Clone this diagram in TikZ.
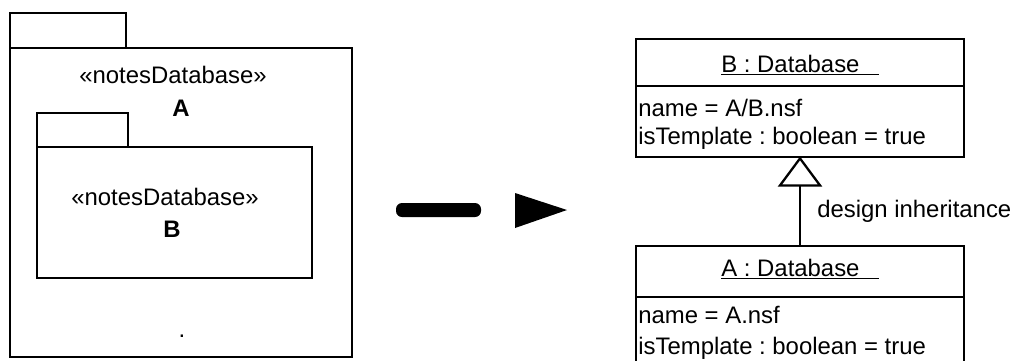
\documentclass[tikz,border=0pt]{standalone}
\usepackage{fontspec}
\setmainfont{Liberation Sans}
\usepackage{tikz}
\tikzset{>=stealth}
\tikzset{
  uml/.style={line width=1.6pt},
  lbl/.style={inner sep=0pt, font=\fontsize{13.6pt}{16pt}\selectfont\frenchspacing},
  gentip/.style={line width=1.3pt, line join=miter, fill=white}
}

\begin{document}
\begin{tikzpicture}[x=0.02cm, y=-0.02cm]
    \useasboundingbox (0,0) rectangle (1014,360);
    % package A with package B inside
    \draw[uml] (10,48) rectangle (126,13);
    \draw[uml] (10,48) rectangle (352,357);
    \node[lbl, anchor=base] (stA) at (173,83) {«notesDatabase»};
    \node[lbl, anchor=base] (nmA) at (181,116) {\textbf{A}};
    \draw[uml] (37,147) rectangle (128,113);
    \draw[uml] (37,147) rectangle (312,278);
    \node[lbl, anchor=base] (stB) at (165,205) {«notesDatabase»};
    \node[lbl, anchor=base] (nmB) at (172,237) {\textbf{B}};
    \node[lbl, anchor=base] (dot) at (182,337) {.};
    % becomes
    \fill[rounded corners=0.12cm] (396,203) rectangle (481,217);
    \fill (515,193) -- (567,210) -- (515,228) -- cycle;
    % object B
    \node[uml, draw, minimum width=6.56cm, minimum height=2.36cm, inner sep=0pt] (Bobj) at (800,98) {};
    \draw[uml] (636,86) -- (964,86);
    \node[lbl, anchor=base] (Btitle) at (800,72) {\underline{B : Database\hspace{0.8em}}};
    \node[lbl, anchor=base west] (Bname) at (638,116) {name = A/B.nsf};
    \node[lbl, anchor=base west] (Btpl) at (638,144) {isTemplate : boolean = true};
    % object A, runs off the bottom
    \node[uml, draw, minimum width=6.56cm, minimum height=3.48cm, inner sep=0pt] (Aobj) at (800,333) {};
    \draw[uml] (636,297) -- (964,297);
    \node[lbl, anchor=base] (Atitle) at (800,276) {\underline{A : Database\hspace{0.8em}}};
    \node[lbl, anchor=base west] (Aname) at (638,323) {name = A.nsf};
    \node[lbl, anchor=base west] (Atpl) at (638,354) {isTemplate : boolean = true};
    % design inheritance
    \coordinate (gen) at ([yshift=-0.55cm]Bobj.south);
    \draw[uml] (Aobj.north) -- (gen);
    \draw[gentip] (Bobj.south) -- ++(-20,27) -- ++(40,0) -- cycle;
    \node[lbl, anchor=base west] (inh) at (817,217) {design inheritance};
\end{tikzpicture}
\end{document}
